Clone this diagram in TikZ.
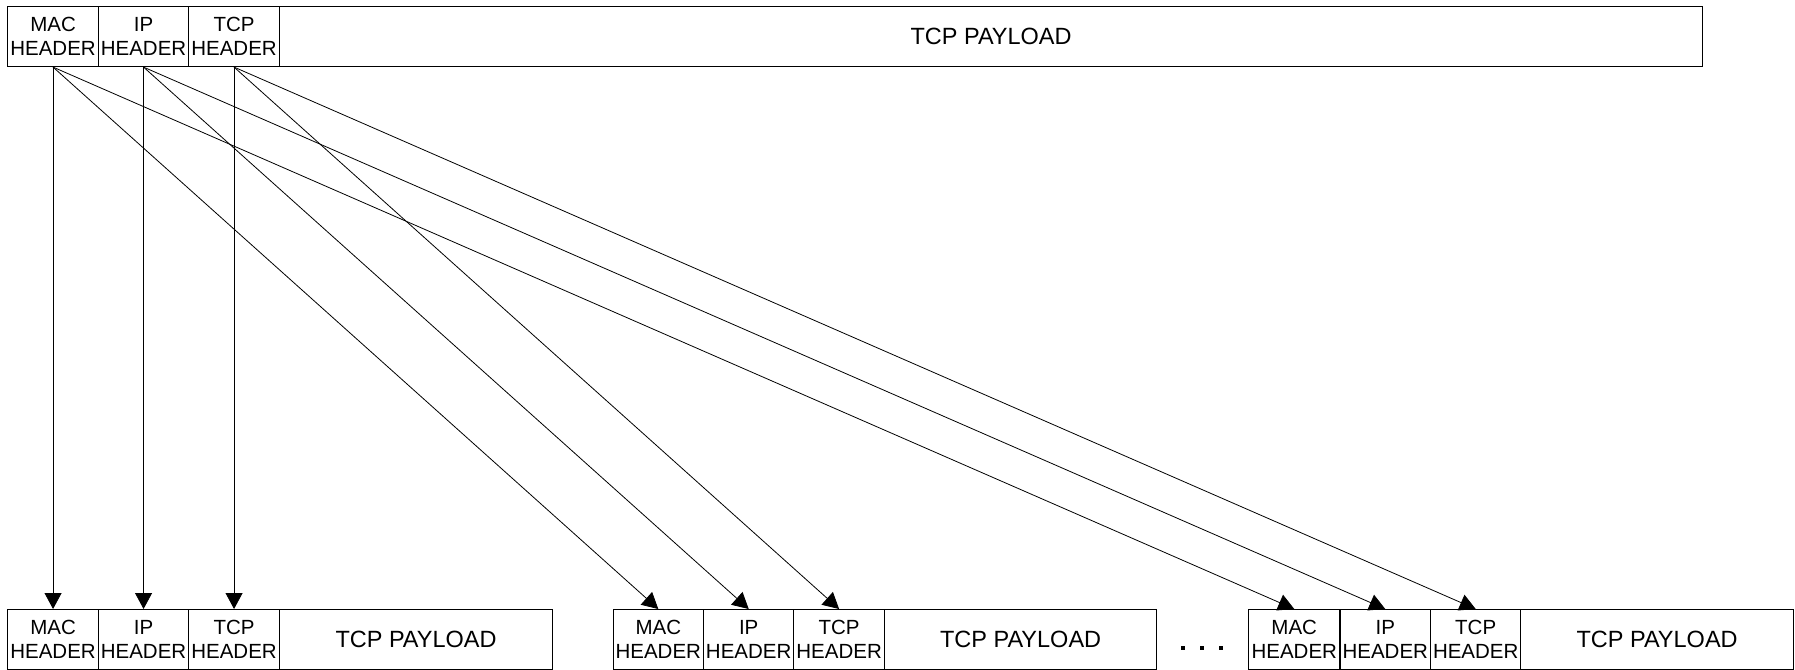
\documentclass[tikz,border=0pt]{standalone}
\usepackage{fontspec}
\setmainfont{Liberation Sans}
\usetikzlibrary{arrows.meta}
\tikzset{
  cell/.style={draw=black, line width=1.1pt, rectangle, inner sep=0pt, anchor=north west,
    minimum height=60pt, align=center, font=\fontsize{20.5}{24}\selectfont},
  paycell/.style={cell, font=\fontsize{23.5}{27}\selectfont},
  link/.style={line width=0.8pt, -{Triangle[length=16pt,width=17pt]}}
}
\begin{document}
\begin{tikzpicture}[x=1pt,y=-1pt]
\useasboundingbox (0,0) rectangle (1795,669);
% top row
\node[cell, minimum width=91pt] (tm) at (7,6) {MAC\\HEADER};
\node[cell, minimum width=90pt] (ti) at (98,6) {IP\\HEADER};
\node[cell, minimum width=91pt] (tt) at (188,6) {TCP\\HEADER};
\node[paycell, minimum width=1423pt] (tp) at (279,6) {TCP PAYLOAD};
% bottom row 1
\node[cell, minimum width=91pt] (am) at (7,609) {MAC\\HEADER};
\node[cell, minimum width=90pt] (ai) at (98,609) {IP\\HEADER};
\node[cell, minimum width=91pt] (at) at (188,609) {TCP\\HEADER};
\node[paycell, minimum width=273pt] (ap) at (279,609) {TCP PAYLOAD};
% bottom row 2
\node[cell, minimum width=90.5pt] (bm) at (612.5,609) {MAC\\HEADER};
\node[cell, minimum width=90.3pt] (bi) at (703,609) {IP\\HEADER};
\node[cell, minimum width=90.5pt] (bt) at (793.3,609) {TCP\\HEADER};
\node[paycell, minimum width=272.5pt] (bp) at (883.8,609) {TCP PAYLOAD};
% bottom row 3
\node[cell, minimum width=91.4pt] (cm) at (1248,609) {MAC\\HEADER};
\node[cell, minimum width=90.6pt] (ci) at (1339.4,609) {IP\\HEADER};
\node[cell, minimum width=90.3pt] (ct) at (1430,609) {TCP\\HEADER};
\node[paycell, minimum width=272.5pt] (cp) at (1520.3,609) {TCP PAYLOAD};
% dots
\foreach \dx in {1183,1202,1221}{
  \fill (\dx-2.2,645.8) rectangle (\dx+2.2,650.2);
}
% connectors
\foreach \s in {m,i,t}{
  \draw[link] (t\s.south) -- (a\s.north);
  \draw[link] (t\s.south) -- (b\s.north);
  \draw[link] (t\s.south) -- (c\s.north);
}
\end{tikzpicture}
\end{document}
